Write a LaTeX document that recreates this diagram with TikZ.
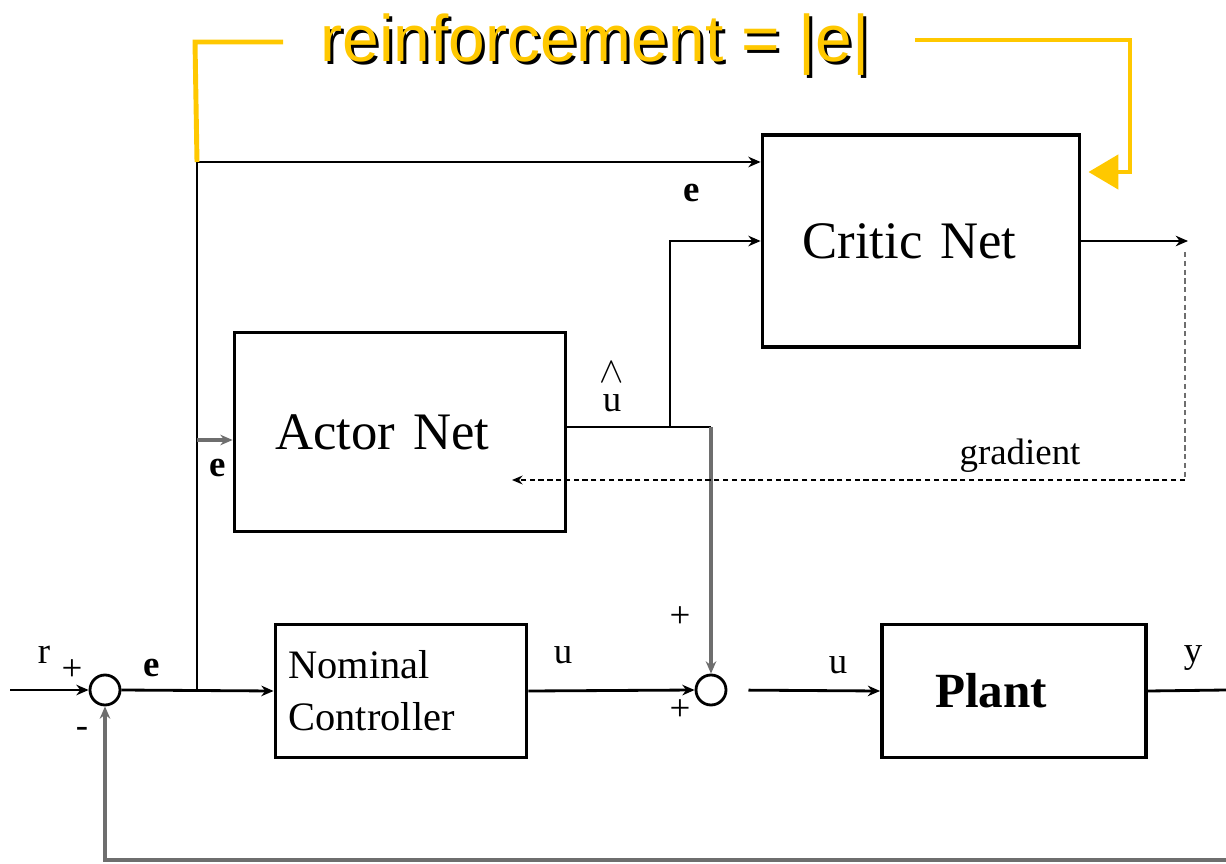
\documentclass[tikz,border=0pt]{standalone}
\usepackage{fontspec}
\setmainfont{Liberation Serif}
\newfontfamily\headfont{Liberation Sans}
\usetikzlibrary{arrows.meta,positioning,calc}
\definecolor{reinf}{RGB}{255,200,0}
\definecolor{wire}{RGB}{110,110,110}
\tikzstyle{block} =
  [rectangle, draw, line width=2.2pt, align=left,
   font=\fontsize{30}{36}\selectfont]
\tikzstyle{sum} =
  [circle, draw, line width=1.6pt, minimum size=0.6cm, inner sep=0pt]
\tikzstyle{arrow}=[draw, line width=1.6pt, -{Stealth[length=7pt,width=6pt]}]
\tikzstyle{grayarrow}=[arrow, wire, line width=2.2pt]
\tikzstyle{lbl}=[font=\fontsize{21}{25}\selectfont, inner sep=0pt]
\tikzstyle{dots}=[draw, line width=1.2pt, dash pattern=on 3pt off 2pt]
\tikzstyle{yline}=[draw, reinf, line width=2.8pt]
\begin{document}
\begin{tikzpicture}[x=0.02cm, y=-0.02cm]
  \useasboundingbox (0,0) rectangle (1226,864);
  % blocks
  \node [block, minimum height=4.24cm, text width=4.74cm, inner xsep=0.8cm]
    (critic) at (921,241) {Critic Net};
  \node [block, minimum height=3.98cm, text width=4.98cm, inner xsep=0.82cm]
    (actor) at (400,432) {Actor Net};
  \node [block, minimum height=2.66cm, text width=4.5cm, inner xsep=0.26cm,
    font=\fontsize{23}{29.5}\selectfont] (nominal) at (401,691)
    {Nominal\\Controller};
  \node [block, minimum height=2.66cm, text width=3.16cm, inner xsep=1.06cm,
    font=\fontsize{28}{34}\selectfont\bfseries] (plant) at (1014,691) {Plant};
  \node [sum] (sumA) at (105,690) {};
  \node [sum] (sumB) at (711,690) {};

  % signal wires
  \coordinate (rin) at (10,690);
  \coordinate (br) at (197,690);
  \coordinate (ctop) at (197,162);
  \coordinate (ea) at (197,440);
  \coordinate (uj) at (670,427);
  \coordinate (uhat) at (711,427);
  \coordinate (yout) at (1226,690);
  \coordinate (fb) at (1226,860);
  \coordinate (cout) at (1188,241);
  \coordinate (gr) at (1185,480);
  \coordinate (gin) at (512,480);

  \draw [arrow] (rin) -- (sumA.west);
  \draw [arrow] (sumA.east) -- (nominal.west);
  \draw [arrow] (br) -- (ctop) -- (ctop -| critic.west);
  \draw [grayarrow] (ea) -- (ea -| actor.west);
  \draw [arrow] (nominal.east) -- (sumB.west);
  \draw [line width=1.6pt] (actor.east |- uhat) -- (uhat);
  \draw [grayarrow] (uhat) -- (sumB.north);
  \draw [arrow] (uj) |- (critic.west);
  \draw [arrow, shorten <=12pt] (sumB.east) -- (plant.west);
  \draw [line width=1.6pt] (plant.east) -- (yout);
  \draw [grayarrow] (fb) -| (sumA.south);
  \draw [arrow] (critic.east) -- (cout);
  \draw [dots, wire] (1185,252) -- (gr);
  \draw [dots, -{Stealth[length=6pt,width=5pt]}] (gr) -- (gin);

  % labels
  \node [lbl] (lr) at (44,655) {r};
  \node [lbl] (lpa) at (72,670) {+};
  \node [lbl] (lma) at (82,732) {-};
  \node [lbl, font=\fontsize{21}{25}\selectfont\bfseries] (le1) at (152,668) {e};
  \node [lbl, font=\fontsize{21}{25}\selectfont\bfseries] (le2) at (218,468) {e};
  \node [lbl, font=\fontsize{21}{25}\selectfont\bfseries] (le3) at (692,193) {e};
  \node [lbl] (luh) at (612,387) {\shortstack{$\wedge$\\[4pt]u}};
  \node [lbl] (lu1) at (563,655) {u};
  \node [lbl] (lpb) at (680,617) {+};
  \node [lbl] (lpc) at (680,710) {+};
  \node [lbl] (lu2) at (838,665) {u};
  \node [lbl] (ly) at (1193,658) {y};
  \node [lbl] (lgrad) at (1020,456) {gradient};

  % reinforcement signal
  \node [anchor=base, font=\headfont\fontsize{37.5}{44}\selectfont, black]
    (shadow) at (598,65) {reinforcement = |e|};
  \node [anchor=base, font=\headfont\fontsize{37.5}{44}\selectfont, reinf]
    (reinforce) at (595,62) {reinforcement = |e|};
  \draw [yline] (283,42) -- (195,42) -- (ctop);
  \draw [yline, -{Triangle[length=0.6cm,width=0.68cm]}]
    (915,40) -- (1130,40) -- (1130,172) -- ([xshift=4pt]critic.east |- 0,172);
\end{tikzpicture}
\end{document}
